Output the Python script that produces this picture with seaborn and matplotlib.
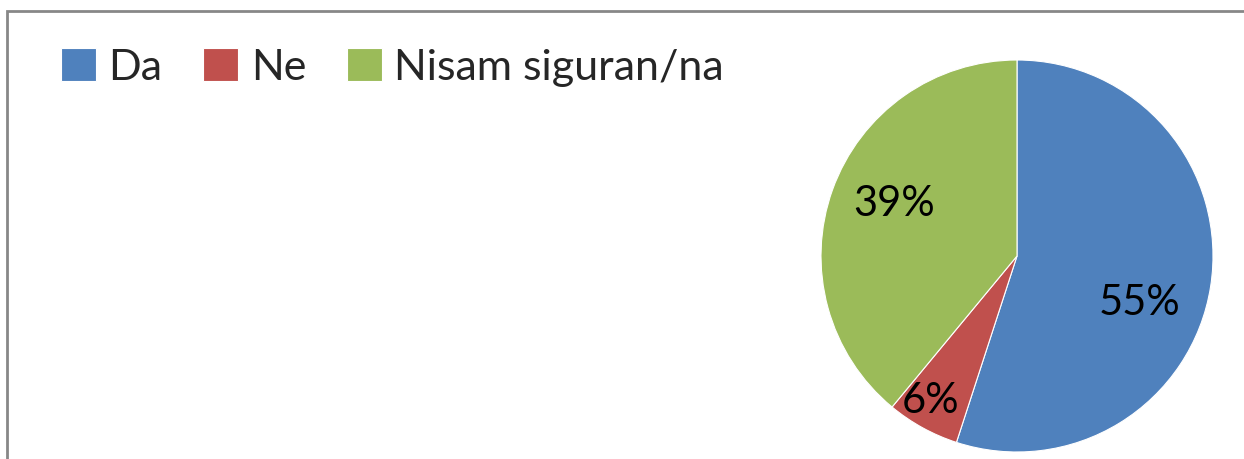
import numpy as np
import matplotlib
matplotlib.use('Agg')
import matplotlib.pyplot as plt
from matplotlib.patches import Rectangle
import seaborn as sns

# Podaci
kategorije = ['Da', 'Ne', 'Nisam siguran/na']
postotci = [55, 6, 39]
boje = ['#4F81BD', '#C0504D', '#9BBB59']
# udaljenost oznake od sredista (udio radijusa) i pomak kuta u stupnjevima
oznaka_r = [0.67, 0.86, 0.68]
oznaka_kut = [-12, -2, -3]

sns.set_theme(style='white')
plt.rcParams['font.family'] = ['Lato', 'DejaVu Sans']

W, H = 1244, 459
fig = plt.figure(figsize=(W / 100, H / 100), dpi=100)
fig.patch.set_facecolor('white')

# Okvir grafikona
fig.add_artist(Rectangle((7 / W, -0.1), 1.2, (H - 11) / H + 0.1, transform=fig.transFigure,
                         fill=False, edgecolor='#878787', linewidth=2))

# Tortni grafikon
cx, cy, r = 1017, 256, 196
ax = fig.add_axes([(cx - r) / W, (H - cy - r) / H, 2 * r / W, 2 * r / H])
wedges, texts = ax.pie(postotci, colors=boje, startangle=90, counterclock=False,
                       radius=1, wedgeprops=dict(edgecolor='white', linewidth=0.8))
ax.set_xlim(-1, 1)
ax.set_ylim(-1, 1)
ax.set_aspect('equal')
ax.axis('off')

# Oznake postotaka
for w, p, rr, dk in zip(wedges, postotci, oznaka_r, oznaka_kut):
    kut = np.deg2rad((w.theta1 + w.theta2) / 2 + dk)
    ax.text(rr * np.cos(kut), rr * np.sin(kut), f'{p}%', ha='center', va='center',
            fontsize=30, color='black')

# Legenda
fig.legend(wedges, kategorije, loc='upper left', bbox_to_anchor=(44 / W, 1 - 31 / H),
           ncol=3, frameon=False, fontsize=31, handlelength=0.8, handleheight=0.8,
           handletextpad=0.3, columnspacing=0.95, borderaxespad=0)

plt.savefig('out.png', dpi=100, facecolor='white')
